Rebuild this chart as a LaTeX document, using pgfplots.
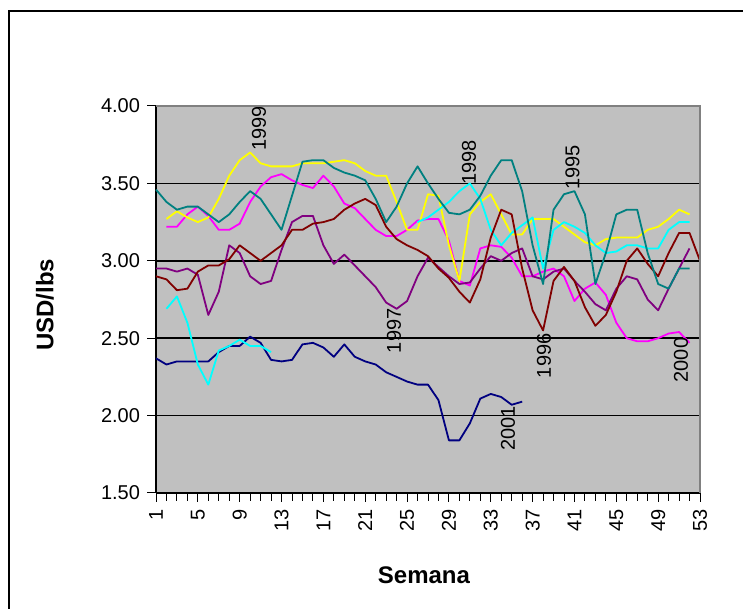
\documentclass[border=0pt]{standalone}
\usepackage{fontspec}
\setmainfont{Liberation Sans}
\usepackage{pgfplots}
\usepackage{pgfplotstable}
\pgfplotsset{compat=1.18}

\definecolor{plotbg}{HTML}{C0C0C0}
\definecolor{c2001}{HTML}{000080}
\definecolor{c2000}{HTML}{FF00FF}
\definecolor{c1999}{HTML}{FFFF00}
\definecolor{c1998}{HTML}{00FFFF}
\definecolor{c1997}{HTML}{800080}
\definecolor{c1996}{HTML}{800000}
\definecolor{c1995}{HTML}{008080}

% weekly prices, USD/lbs
\pgfplotstableread{
w  y2001 y2000 y1999 y1998 y1997 y1996 y1995
1  2.37  nan   nan   nan   2.95  2.90  3.46
2  2.33  3.22  3.27  2.69  2.95  2.88  3.38
3  2.35  3.22  3.32  2.77  2.93  2.81  3.33
4  2.35  3.30  3.28  2.60  2.95  2.82  3.35
5  2.35  3.35  3.25  2.33  2.91  2.93  3.35
6  2.35  3.29  3.28  2.20  2.65  2.97  3.30
7  2.41  3.20  3.40  2.42  2.80  2.97  3.25
8  2.45  3.20  3.55  2.45  3.10  3.01  3.30
9  2.45  3.24  3.65  2.49  3.05  3.10  3.38
10 2.51  3.38  3.70  2.45  2.90  3.05  3.45
11 2.47  3.48  3.63  2.45  2.85  3.00  3.40
12 2.36  3.54  3.61  2.41  2.87  3.05  3.30
13 2.35  3.56  3.61  nan   3.07  3.10  3.20
14 2.36  3.52  3.61  nan   3.25  3.20  3.42
15 2.46  3.49  3.63  nan   3.29  3.20  3.64
16 2.47  3.47  3.63  nan   3.29  3.24  3.65
17 2.44  3.55  3.63  nan   3.10  3.25  3.65
18 2.38  3.48  3.64  nan   2.98  3.27  3.60
19 2.46  3.37  3.65  nan   3.04  3.33  3.57
20 2.38  3.34  3.63  nan   2.97  3.37  3.55
21 2.35  3.27  3.58  nan   2.90  3.40  3.52
22 2.33  3.20  3.55  nan   2.83  3.36  3.40
23 2.28  3.16  3.55  nan   2.73  3.22  3.25
24 2.25  3.16  3.38  nan   2.69  3.14  3.35
25 2.22  3.20  3.20  nan   2.74  3.10  3.50
26 2.20  3.26  3.20  3.25  2.90  3.07  3.61
27 2.20  3.27  3.43  3.28  3.02  3.03  3.50
28 2.10  3.27  3.42  3.33  2.96  2.95  3.40
29 1.84  3.13  3.10  3.38  2.90  2.89  3.31
30 1.84  2.87  2.87  3.45  2.85  2.80  3.30
31 1.95  2.84  3.30  3.50  2.86  2.73  3.33
32 2.11  3.08  3.38  3.40  2.95  2.88  3.42
33 2.14  3.10  3.43  3.20  3.03  3.15  3.55
34 2.12  3.09  3.30  3.10  3.00  3.33  3.65
35 2.07  3.02  3.17  3.18  3.05  3.30  3.65
36 2.09  2.90  3.17  3.23  3.08  2.95  3.45
37 nan   2.90  3.27  3.28  2.90  2.68  3.10
38 nan   2.93  3.27  2.95  2.88  2.55  2.85
39 nan   2.95  3.27  3.20  2.93  2.87  3.33
40 nan   2.90  3.22  3.25  2.95  2.96  3.43
41 nan   2.74  3.17  3.22  2.87  2.87  3.45
42 nan   2.82  3.12  3.18  2.80  2.70  3.30
43 nan   2.86  3.10  3.10  2.72  2.58  2.85
44 nan   2.78  3.14  3.05  2.68  2.65  3.05
45 nan   2.60  3.15  3.06  2.82  2.80  3.30
46 nan   2.50  3.15  3.10  2.90  3.00  3.33
47 nan   2.48  3.15  3.10  2.88  3.08  3.33
48 nan   2.48  3.20  3.08  2.75  2.98  3.05
49 nan   2.50  3.22  3.08  2.68  2.90  2.85
50 nan   2.53  3.27  3.20  2.82  3.05  2.82
51 nan   2.54  3.33  3.25  2.95  3.18  2.95
52 nan   2.47  3.30  3.25  3.08  3.18  2.95
53 nan   nan   nan   nan   nan   3.00  nan
}\prices

\begin{document}
\begin{tikzpicture}
\path[use as bounding box] (0,0) rectangle (371.5pt,304.5pt);
\draw[line width=1.1pt] (4.5pt,-5pt) -- (4.5pt,299pt) -- (380pt,299pt);
\begin{axis}[
  at={(78pt,58pt)}, anchor=south west,
  scale only axis, width=272pt, height=193.5pt,
  xmin=1, xmax=53, ymin=1.5, ymax=4,
  axis background/.style={fill=plotbg},
  axis x line*=bottom, axis y line*=left,
  axis line style={black, line width=0.7pt},
  xtick={1,5,...,53}, minor xtick={1,...,53},
  ytick={1.5,2,...,4},
  tick align=outside, major tick length=4.5pt, minor tick length=4pt,
  tick style={black, line width=0.5pt},
  ymajorgrids, grid style={black, line width=0.8pt},
  /pgf/number format/assume math mode=true,
  tick label style={font=\fontsize{10}{12}\selectfont},
  yticklabel style={/pgf/number format/.cd, fixed, fixed zerofill, precision=2},
  xticklabel style={rotate=90, anchor=east},
  xlabel={Semana}, ylabel={USD/lbs},
  label style={font=\fontsize{12}{14}\selectfont\bfseries},
  xlabel style={at={(axis description cs:0.4926,-0.212)}, anchor=center},
  ylabel style={at={(axis description cs:-0.204,0.486)}, anchor=center},
  unbounded coords=jump,
  clip=false,
  every axis plot/.append style={line width=0.9pt, mark=none, line join=round},
  after end axis/.code={
    \draw[color=gray, line width=0.8pt] (rel axis cs:0,1) -- (rel axis cs:1,1) -- (rel axis cs:1,0);
  },
]
\addplot[c2001] table[x=w, y=y2001] {\prices};
\addplot[c2000] table[x=w, y=y2000] {\prices};
\addplot[c1999] table[x=w, y=y1999] {\prices};
\addplot[c1998] table[x=w, y=y1998] {\prices};
\addplot[c1997] table[x=w, y=y1997] {\prices};
\addplot[c1996] table[x=w, y=y1996] {\prices};
\addplot[c1995] table[x=w, y=y1995] {\prices};

\begin{scope}[every node/.style={rotate=90, font=\fontsize{10}{12}\selectfont}]
\node at (axis cs:10.85,3.855) {1999};
\node at (axis cs:30.92,3.635) {1998};
\node at (axis cs:40.81,3.603) {1995};
\node at (axis cs:23.75,2.548) {1997};
\node at (axis cs:38.09,2.386) {1996};
\node at (axis cs:51.18,2.359) {2000};
\node at (axis cs:34.65,1.918) {2001};
\end{scope}
\end{axis}
\end{tikzpicture}
\end{document}
